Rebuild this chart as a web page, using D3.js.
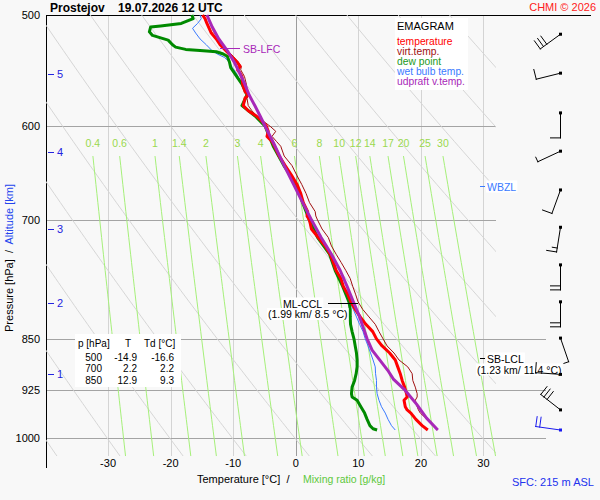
<html>
<head>
<meta charset="UTF-8">
<title>Emagram Prostejov</title>
<script src="https://d3js.org/d3.v7.min.js"></script>
<style>
body{ margin:0; background:#ffffff; }
svg{ display:block; font-family:"Liberation Sans", Arial, sans-serif; }
text{ white-space:pre; }
</style>
</head>
<body>
<svg width="600" height="500"></svg>
<script type="text/javascript">
// ---- sounding data (hPa, degC) ----
var tempP = [500,503,507,515,520,525,530,535,540,544,547,550,553,560,567,570,573,580,585,590,595,600,605,610,615,620,630,640,650,660,670,680,690,695,700,710,720,730,740,750,760,770,780,790,800,810,820,830,840,850,860,870,880,890,900,910,920,930,935,940,950,955,960,970,980,987];
var tempT = [-14.9,-14.5,-14.2,-13.5,-12.7,-12.1,-11.2,-10.3,-9.4,-8.9,-9.3,-8.9,-8.6,-8.5,-8.1,-7.6,-8.1,-8.4,-7.6,-6.3,-5.4,-4.7,-4.4,-4.6,-3.8,-3.4,-2.65,-1.7,-0.7,0.2,0.8,1.2,1.9,1.8,2.2,2.5,3.6,4.7,5.5,6.0,6.45,7.2,7.6,8.3,8.8,9.5,10.3,11.2,12.3,12.9,13.8,15.0,15.9,16.3,16.7,17.0,17.4,17.7,17.8,17.3,17.5,17.8,18.4,19.2,20.2,21.1];
var virtT = [-14.3,-14.0,-13.7,-13.0,-12.2,-11.7,-10.9,-10.0,-9.2,-8.7,-8.8,-8.5,-8.2,-7.9,-7.7,-7.5,-7.8,-7.6,-7.0,-6.2,-5.2,-4.1,-3.2,-3.8,-3.1,-2.4,-1.85,-0.6,0.15,0.95,1.65,2.2,3.1,3.2,3.5,4.2,5.2,5.7,6.45,7.25,8.0,8.7,9.1,9.55,9.95,10.7,11.7,12.7,13.3,13.95,14.6,15.7,16.5,17.9,18.6,18.7,19.1,19.4,19.4,19.1,19.4,19.6,19.9,21.0,21.9,22.6];
var dewP = [500,503,507,509,510,514,517,521,525,527,529,530,531,533,535,540,545,550,555,560,570,580,590,600,620,640,660,680,700,720,740,760,780,800,810,820,830,840,850,860,870,880,890,900,910,920,930,935,940,950,960,970,980,985,987];
var dewT = [-16.6,-16.4,-18.3,-21.6,-23.2,-23.4,-22.9,-20.4,-19.7,-19.2,-17.6,-15.3,-12.7,-11.6,-10.95,-10.6,-10.4,-9.8,-9.2,-8.6,-7.8,-8.6,-6.5,-4.9,-3.6,-1.9,0.1,1.1,2.2,3.5,5.4,6.3,7.5,8.5,8.7,8.7,8.75,9.0,9.3,9.5,9.7,9.8,9.8,9.65,9.4,9.0,8.9,9.0,9.8,10.4,11.0,11.4,11.85,12.35,13.0];
var wetP = [500,503,507,511,515,520,525,530,533,536,540,545,550,560,570,580,590,600,620,640,660,680,700,720,740,760,780,800,810,820,830,840,850,860,870,880,890,900,910,920,930,940,950,960,970,980,987];
var wetT = [-15.3,-15.1,-15.7,-16.5,-16.0,-15.3,-14.3,-13.4,-12.55,-11.4,-10.6,-10.15,-9.5,-8.6,-7.7,-8.5,-6.4,-4.8,-3.5,-1.8,0.15,1.15,2.2,3.55,5.45,6.4,7.55,8.6,9.2,9.7,10.2,10.75,11.1,11.55,11.95,12.35,12.7,12.75,12.9,12.9,13.0,13.3,13.7,14.3,14.75,15.3,15.9];
var parcelP = [500,510,520,530,540,550,560,570,580,590,600,620,640,660,680,700,720,740,760,780,800,820,850,866,881,895,908,925,946,968,987];
var parcelT = [-14.2,-13.35,-12.3,-10.95,-9.85,-8.95,-8.15,-7.45,-6.55,-5.7,-4.9,-3.3,-1.85,-0.35,1.1,2.55,4.05,5.7,7.1,8.2,9.2,10.2,11.4,12.2,13.5,14.7,15.6,17.5,19.3,20.9,22.7];

// wind (hPa, deg, kt) - last one is surface
var windP = [516,550,587,625,666,708,753,800,849,901,955,987];
var windDir = [234,256,180,245,200,189,180,180,161,274,308,278];
var windSpd = [30,10,10,5,10,15,20,20,5,10,30,20];

// altitude marks (km at hPa)
var altKm = [1,2,3,4,5];
var altP = [901,801,710,626,551];

// table
var tableP = [500,700,850];
var tableT = ["-14.9","2.2","12.9"];
var tableTd = ["-16.6","2.2","9.3"];

// axes / background
var pTicks = [500,600,700,850,925,1000];
var tTicks = [-30,-20,-10,0,10,20,30];
var mixRatios = [0.4,0.6,1,1.4,2,3,4,6,8,10,12,14,17,20,25,30];
var thetas = [233,243,253,263,273,283,293,303,313,323,333,343,353,363,373];

var legendNames = ["temperature","virt.temp.","dew point","wet bulb temp.","udpraft v.temp."];
var legendColors = ["#ff0000","#a01010","#229922","#3a7aff","#a828b8"];

var width = 600, height = 500;
var x = d3.scaleLinear().domain([-40, 32]).range([45.5, 496]);
var y = d3.scaleLog().domain([500, 1000]).range([15, 438]);

var svg = d3.select("svg").attr("width", width).attr("height", height);
svg.append("rect").attr("width", width).attr("height", height).attr("fill", "#f8f8f8");

svg.append("clipPath").attr("id", "plotClip")
   .append("rect").attr("x", 46).attr("y", 15).attr("width", 450).attr("height", y(1030) - 15);

var pairs = function(ps, ts){
  return ps.map(function(p, i){ return {p: p, t: ts[i]}; });
};
var line = d3.line()
   .x(function(d){ return x(d.t); })
   .y(function(d){ return y(d.p); });

// isotherms
var grid = svg.append("g").attr("shape-rendering", "crispEdges");
grid.selectAll(".iso").data(tTicks).enter().append("line")
   .attr("x1", function(d){ return Math.round(x(d)) + 0.5; })
   .attr("x2", function(d){ return Math.round(x(d)) + 0.5; })
   .attr("y1", y(500)).attr("y2", y(1030))
   .attr("stroke", function(d){ return d == 0 ? "#9c9c9c" : "#d4d4d4"; })
   .attr("stroke-width", 1);

// dry adiabats
var adiabat = function(th){
  return d3.range(500, 1031, 5).map(function(p){
    return {p: p, t: th * Math.pow(p / 1000, 0.286) - 273.15};
  });
};
svg.append("g").attr("clip-path", "url(#plotClip)")
   .selectAll("path").data(thetas).enter().append("path")
   .attr("d", function(d){ return line(adiabat(d)); })
   .attr("fill", "none").attr("stroke", "#d6d6d6").attr("stroke-width", 1);

// mixing ratio lines
var mixTemp = function(w, p){
  var e = w * p / (622 + w);
  var a = Math.log(e / 6.112);
  return 243.5 * a / (17.67 - a);
};
var mixG = svg.append("g");
mixG.selectAll("path").data(mixRatios).enter().append("path")
   .attr("d", function(w){
     return line(d3.range(630, 1031, 10).map(function(p){ return {p: p, t: mixTemp(w, p)}; }));
   })
   .attr("fill", "none").attr("stroke", "#a6f07a").attr("stroke-width", 1);
mixG.selectAll("text").data(mixRatios).enter().append("text")
   .attr("x", function(w){ return x(mixTemp(w, 630)); })
   .attr("y", 147)
   .attr("text-anchor", "middle")
   .attr("font-size", "10.5px")
   .attr("fill", "#9ad84e")
   .text(function(w){ return w; });

// isobars
grid.selectAll(".bar").data(pTicks.slice(1)).enter().append("line")
   .attr("x1", 46)
   .attr("x2", function(d){ return d >= 850 ? 546 : 496; })
   .attr("y1", function(d){ return Math.round(y(d)) + 0.5; })
   .attr("y2", function(d){ return Math.round(y(d)) + 0.5; })
   .attr("stroke", "#a4a4a4");

// frame
grid.append("line").attr("x1", 46).attr("x2", 591).attr("y1", 15.5).attr("y2", 15.5).attr("stroke", "#000");
grid.append("line").attr("x1", 46.5).attr("x2", 46.5).attr("y1", 15).attr("y2", 468).attr("stroke", "#000");

// pressure labels
svg.append("g").selectAll("text").data(pTicks).enter().append("text")
   .attr("x", 40).attr("y", function(d){ return y(d) + 4; })
   .attr("text-anchor", "end").attr("font-size", "11px").attr("fill", "#000")
   .text(function(d){ return d; });

// temperature labels
svg.append("g").selectAll("text").data(tTicks).enter().append("text")
   .attr("x", function(d){ return x(d); }).attr("y", 467)
   .attr("text-anchor", "middle").attr("font-size", "11px").attr("fill", "#000")
   .text(function(d){ return d; });

// altitude marks
var altG = svg.append("g").attr("fill", "#2424e0");
altG.selectAll("line").data(altP).enter().append("line")
   .attr("x1", 48).attr("x2", 54)
   .attr("y1", function(d){ return Math.round(y(d)) + 0.5; })
   .attr("y2", function(d){ return Math.round(y(d)) + 0.5; })
   .attr("stroke", "#2424e0").attr("shape-rendering", "crispEdges");
altG.selectAll("text").data(altP).enter().append("text")
   .attr("x", 57).attr("y", function(d){ return y(d) + 4; })
   .attr("font-size", "11px")
   .text(function(d, i){ return altKm[i]; });

// axis titles
var yTitle = svg.append("text")
   .attr("transform", "translate(12.5,258) rotate(-90)")
   .attr("text-anchor", "middle").attr("font-size", "11px");
yTitle.append("tspan").attr("fill", "#000").text("Pressure [hPa]  /  ");
yTitle.append("tspan").attr("fill", "#2244ee").text("Altitude [km]");

svg.append("text").attr("x", 197).attr("y", 483).attr("font-size", "11px").attr("fill", "#000")
   .text("Temperature [\u00b0C]  /");
svg.append("text").attr("x", 303).attr("y", 483).attr("font-size", "10.5px").attr("fill", "#5ec83c")
   .text("Mixing ratio [g/kg]");

// title
svg.append("text").attr("x", 50).attr("y", 11.5).attr("font-size", "12px").attr("font-weight", "bold")
   .text("Prostejov    19.07.2026 12 UTC");
svg.append("text").attr("x", 596).attr("y", 11).attr("text-anchor", "end").attr("font-size", "11px")
   .attr("fill", "#ff2020").text("CHMI \u00a9 2026");
svg.append("text").attr("x", 512).attr("y", 485.5).attr("font-size", "11px").attr("fill", "#2233ee")
   .text("SFC: 215 m ASL");

// profiles
var curves = svg.append("g").attr("fill", "none").attr("stroke-linejoin", "round");
curves.append("path").attr("d", line(pairs(tempP, virtT))).attr("stroke", "#a01010").attr("stroke-width", 1);
curves.append("path").attr("d", line(pairs(wetP, wetT))).attr("stroke", "#3a7aff").attr("stroke-width", 1);
curves.append("path").attr("d", line(pairs(dewP, dewT))).attr("stroke", "#008a00").attr("stroke-width", 3);
curves.append("path").attr("d", line(pairs(tempP, tempT))).attr("stroke", "#ff0000").attr("stroke-width", 3);
curves.append("path").attr("d", line(pairs(parcelP, parcelT))).attr("stroke", "#a828b8").attr("stroke-width", 3);

// level labels
var boxed = function(tx, ty, str, color){
  var g = svg.append("g");
  var r = g.append("rect").attr("fill", "#ffffff");
  var t = g.append("text").attr("x", tx).attr("y", ty).attr("font-size", "10.5px").attr("fill", color).text(str);
  var b = t.node().getBBox();
  r.attr("x", b.x - 1).attr("y", b.y).attr("width", b.width + 2).attr("height", b.height);
};
svg.append("line").attr("x1", 220).attr("x2", 240).attr("y1", 48.5).attr("y2", 48.5).attr("stroke", "#a828b8");
svg.append("text").attr("x", 243).attr("y", 52.5).attr("font-size", "10.5px").attr("fill", "#a828b8").text("SB-LFC");

svg.append("line").attr("x1", 328).attr("x2", 358).attr("y1", 303.5).attr("y2", 303.5).attr("stroke", "#000");
boxed(283, 307.5, "ML-CCL", "#000");
boxed(268, 318, "(1.99 km/ 8.5 \u00b0C)", "#000");

svg.append("line").attr("x1", 480).attr("x2", 485).attr("y1", 186.5).attr("y2", 186.5).attr("stroke", "#3a7aff");
boxed(487, 190.5, "WBZL", "#3a7aff");

svg.append("line").attr("x1", 480).attr("x2", 485).attr("y1", 358.5).attr("y2", 358.5).attr("stroke", "#000");
boxed(487, 362.5, "SB-LCL", "#000");
boxed(477, 373.5, "(1.23 km/ 11.4 \u00b0C)", "#000");

// legend
var legend = svg.append("g");
legend.append("rect").attr("x", 395).attr("y", 18).attr("width", 73).attr("height", 72).attr("fill", "#ffffff");
legend.append("text").attr("x", 397).attr("y", 30).attr("font-size", "11px").attr("fill", "#000").text("EMAGRAM");
legend.selectAll(".leg").data(legendNames).enter().append("text")
   .attr("x", 397).attr("y", function(d, i){ return 45 + i * 10; })
   .attr("font-size", "10.3px")
   .attr("fill", function(d, i){ return legendColors[i]; })
   .text(function(d){ return d; });

// table
var table = svg.append("g").attr("font-size", "10px").attr("fill", "#000");
table.append("rect").attr("x", 75).attr("y", 334).attr("width", 106).attr("height", 53).attr("fill", "#ffffff");
table.append("text").attr("x", 78).attr("y", 347).text("p [hPa]");
table.append("text").attr("x", 128).attr("y", 347).attr("text-anchor", "middle").text("T");
table.append("text").attr("x", 144).attr("y", 347).text("Td [\u00b0C]");
tableP.forEach(function(p, i){
  var ry = 361 + i * 11.3;
  table.append("text").attr("x", 102).attr("y", ry).attr("text-anchor", "end").text(p);
  table.append("text").attr("x", 137).attr("y", ry).attr("text-anchor", "end").text(tableT[i]);
  table.append("text").attr("x", 174).attr("y", ry).attr("text-anchor", "end").text(tableTd[i]);
});

// wind barbs
var barbs = svg.append("g").attr("stroke-linecap", "square");
windP.forEach(function(p, i){
  var col = i == windP.length - 1 ? "#1a1aee" : "#000";
  var cx = 560.5, cy = y(p);
  var rad = windDir[i] * Math.PI / 180;
  var ux = Math.sin(rad), uy = -Math.cos(rad);
  var px = -uy, py = ux;
  var ex = cx + ux * 25, ey = cy + uy * 25;
  barbs.append("line").attr("x1", cx).attr("y1", cy).attr("x2", ex).attr("y2", ey)
     .attr("stroke", col).attr("stroke-width", 1);
  var spd = windSpd[i], k = 0;
  while (spd >= 10) {
    var bx = ex - ux * k * 4, by = ey - uy * k * 4;
    barbs.append("line").attr("x1", bx).attr("y1", by).attr("x2", bx + px * 10).attr("y2", by + py * 10)
       .attr("stroke", col).attr("stroke-width", 1);
    spd -= 10; k++;
  }
  if (spd >= 5) {
    var hx = ex - ux * k * 4, hy = ey - uy * k * 4;
    barbs.append("line").attr("x1", hx).attr("y1", hy).attr("x2", hx + px * 5).attr("y2", hy + py * 5)
       .attr("stroke", col).attr("stroke-width", 1);
  }
  barbs.append("rect").attr("x", cx - 1.5).attr("y", cy - 1.5).attr("width", 3).attr("height", 3).attr("fill", col);
});
</script>
</body>
</html>
